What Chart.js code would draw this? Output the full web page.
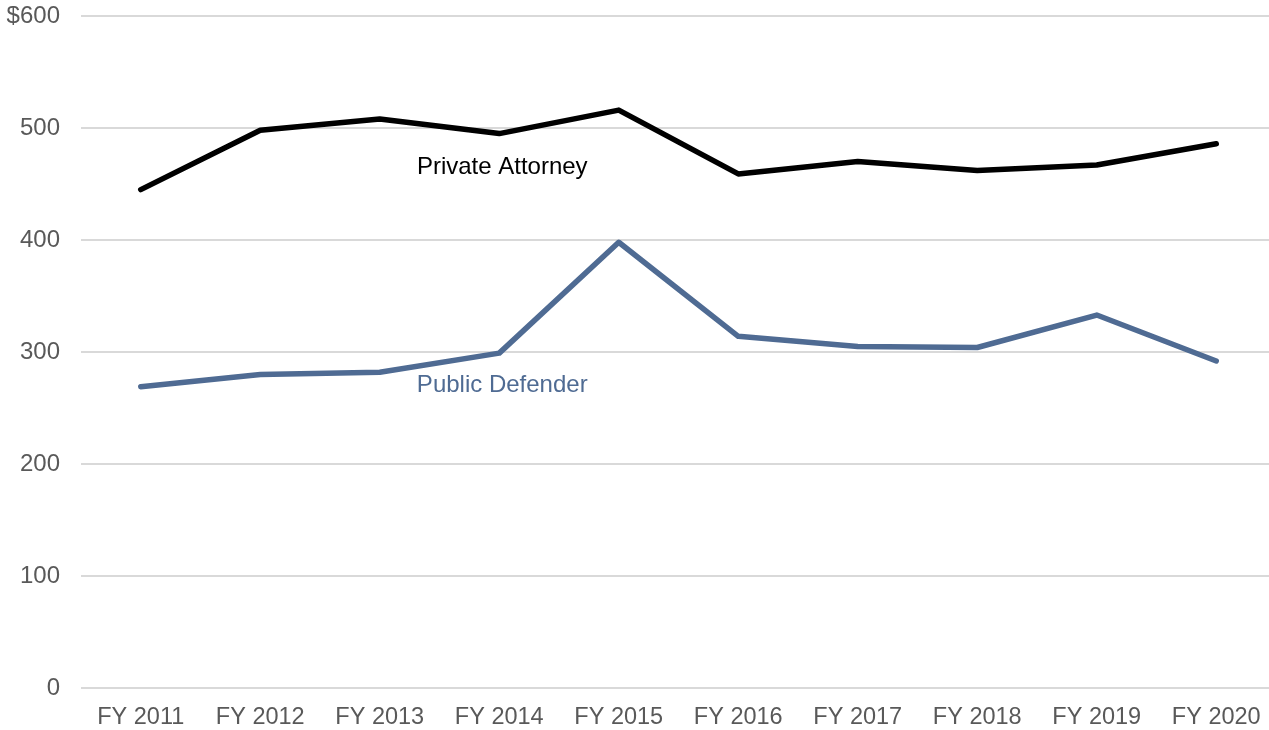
<!DOCTYPE html>
<html>
<head>
<meta charset="utf-8">
<script src="https://cdn.jsdelivr.net/npm/chart.js@4/dist/chart.umd.min.js"></script>
<style>
  html, body { margin: 0; padding: 0; background: #fff; overflow: hidden; }
  #wrap { width: 1276px; height: 730px; position: relative; }
</style>
</head>
<body>
<div id="wrap"><canvas id="c"></canvas></div>
<script>
const FONT = "'Liberation Sans', Arial, sans-serif";

const years = ['FY 2011', 'FY 2012', 'FY 2013', 'FY 2014', 'FY 2015',
  'FY 2016', 'FY 2017', 'FY 2018', 'FY 2019', 'FY 2020'];
const privateAttorney = [445, 498, 508, 495, 516, 459, 470, 462, 467, 486];
const publicDefender = [269, 280, 282, 299, 398, 314, 305, 304, 333, 292];

// in-chart series labels: [text, category index, value]
const seriesLabels = [
  ['Private Attorney', 3, 465],
  ['Public Defender', 3, 270],
];

const BLACK = '#000000';
const BLUE = '#4f6b93';

const inlineLabels = {
  id: 'inlineLabels',
  afterDatasetsDraw(chart) {
    const { ctx, scales: { x, y } } = chart;
    const colors = [BLACK, BLUE];
    ctx.save();
    ctx.font = `24px ${FONT}`;
    ctx.textAlign = 'center';
    ctx.textBaseline = 'middle';
    seriesLabels.forEach(([text, idx, val], i) => {
      ctx.fillStyle = colors[i];
      ctx.fillText(text, x.getPixelForValue(idx) + 3, y.getPixelForValue(val));
    });
    ctx.restore();
  },
};

new Chart(document.getElementById('c'), {
  type: 'line',
  data: {
    labels: years,
    datasets: [
      {
        label: 'Private Attorney',
        data: privateAttorney,
        borderColor: BLACK,
        borderWidth: 5.5,
        borderCapStyle: 'round',
        borderJoinStyle: 'round',
        pointRadius: 0,
        tension: 0,
      },
      {
        label: 'Public Defender',
        data: publicDefender,
        borderColor: BLUE,
        borderWidth: 5.5,
        borderCapStyle: 'round',
        borderJoinStyle: 'round',
        pointRadius: 0,
        tension: 0,
      },
    ],
  },
  options: {
    responsive: true,
    maintainAspectRatio: false,
    animation: false,
    layout: { padding: { top: 16, right: 0, left: 0, bottom: 0 } },
    plugins: { legend: { display: false }, tooltip: { enabled: false } },
    scales: {
      x: {
        offset: true,
        afterFit: (s) => { s.height = 42; },
        grid: { display: false, drawTicks: false },
        border: { display: false },
        ticks: { color: '#595959', font: { family: FONT, size: 23.5 }, padding: 15, maxRotation: 0, autoSkip: false },
      },
      y: {
        min: 0,
        max: 600,
        afterFit: (s) => { s.width = 81; s.paddingTop = 0; s.paddingBottom = 0; },
        grid: { color: '#d9d9d9', lineWidth: 2, drawTicks: false },
        border: { display: false },
        ticks: {
          stepSize: 100,
          color: '#595959',
          font: { family: FONT, size: 24 },
          padding: 21,
          callback: (v) => (v === 600 ? '$' + v : v),
        },
      },
    },
  },
  plugins: [inlineLabels],
});
</script>
</body>
</html>
